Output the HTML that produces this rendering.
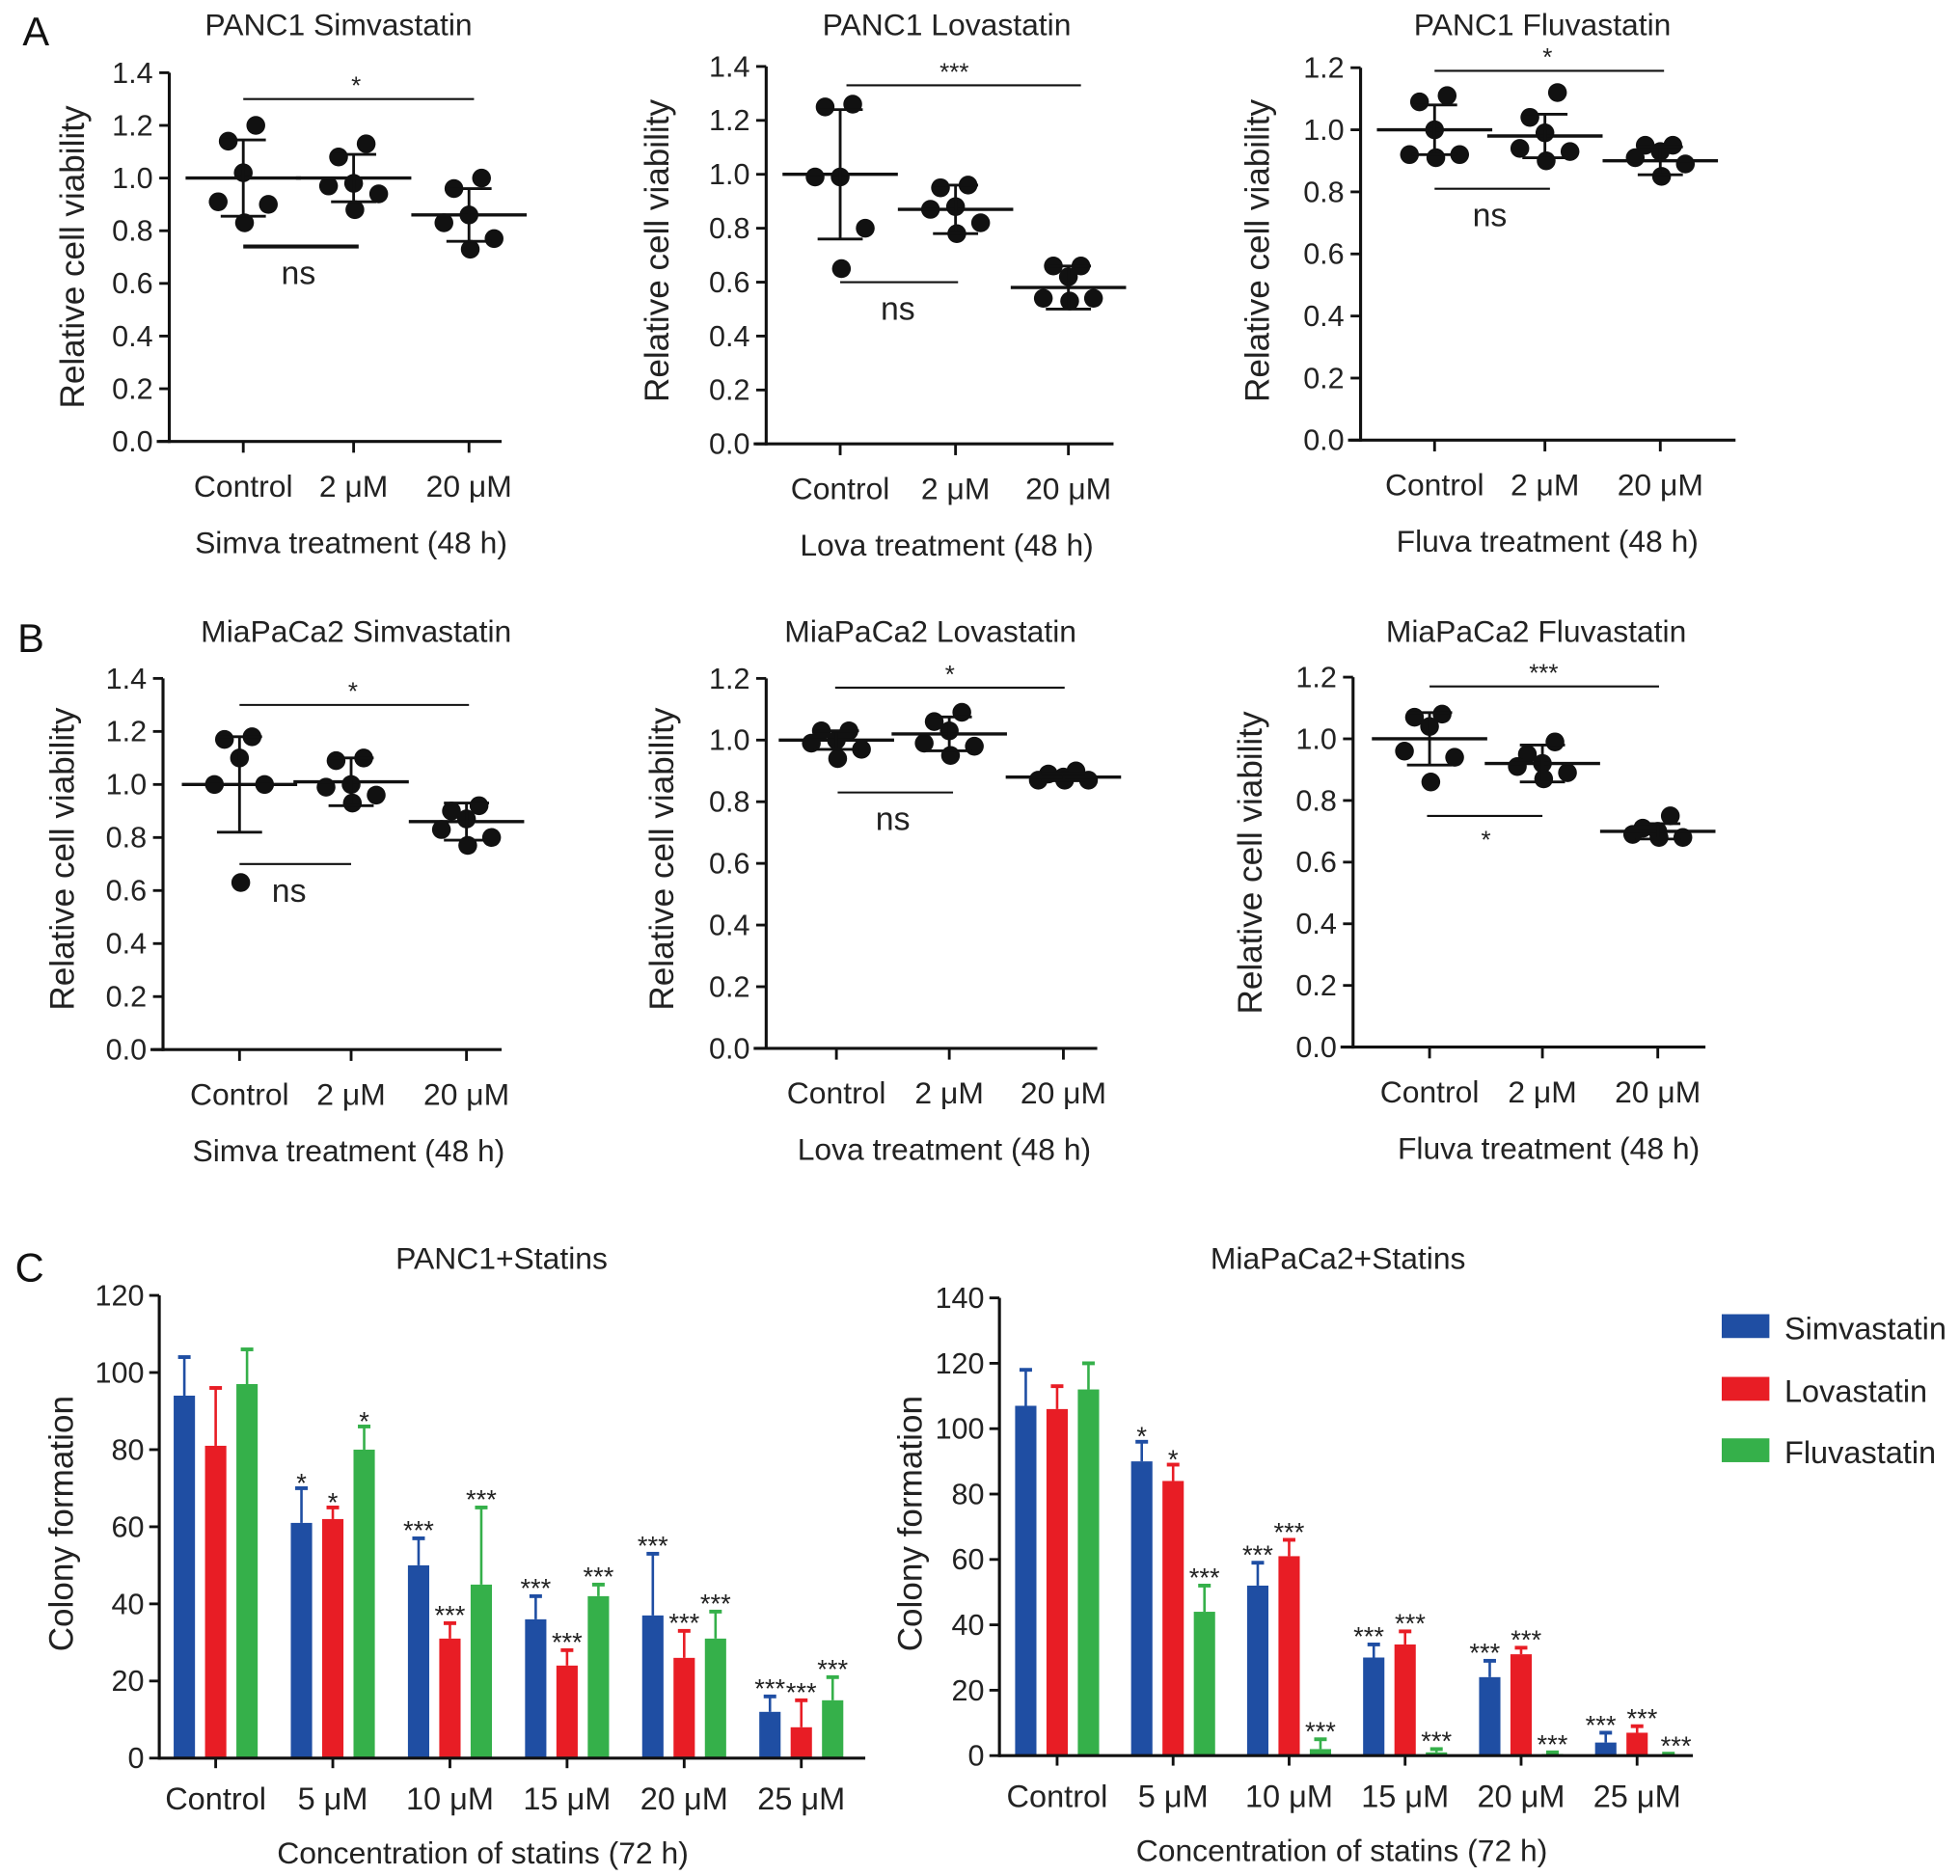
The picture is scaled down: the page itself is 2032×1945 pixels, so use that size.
<!DOCTYPE html>
<html><head><meta charset="utf-8">
<style>
html,body{margin:0;padding:0;background:#fff;}
svg{display:block;font-family:"Liberation Sans",Arial,sans-serif;}
</style></head>
<body>
<svg id="fig" width="2032" height="1945" viewBox="0 0 1563 1496" preserveAspectRatio="none" xmlns="http://www.w3.org/2000/svg">
<rect width="1563" height="1496" fill="#fff"/>
<text x="18" y="36" font-size="32" fill="#111">A</text>
<text x="14" y="520" font-size="32" fill="#111">B</text>
<text x="12" y="1022" font-size="32" fill="#111">C</text>
<g id="legend">
<rect x="1373" y="1048" width="38" height="19" fill="#1f4ea3"/>
<text x="1423" y="1068" font-size="25" fill="#222">Simvastatin</text>
<rect x="1373" y="1098" width="38" height="19" fill="#e81d25"/>
<text x="1423" y="1118" font-size="25" fill="#222">Lovastatin</text>
<rect x="1373" y="1147" width="38" height="19" fill="#35b04a"/>
<text x="1423" y="1167" font-size="25" fill="#222">Fluvastatin</text>
</g>
</svg>
<script>
const NS="http://www.w3.org/2000/svg";
const svg=document.getElementById('fig');

// ---------- scatter data ----------
const scatterCats=["Control","2 \u03bcM","20 \u03bcM"];
const a1Points=[[1.20,1.14,1.02,0.91,0.90,0.83],[1.13,1.08,0.98,0.97,0.94,0.88],[1.00,0.96,0.86,0.83,0.77,0.73]];
const a1Mean=[1.00,1.00,0.86];
const a1Sd=[0.145,0.09,0.10];
const a2Points=[[1.26,1.25,0.99,0.99,0.80,0.65],[0.96,0.95,0.88,0.87,0.82,0.78],[0.66,0.66,0.62,0.54,0.54,0.53]];
const a2Mean=[1.00,0.87,0.58];
const a2Sd=[0.24,0.09,0.08];
const a3Points=[[1.11,1.09,1.00,0.92,0.92,0.91],[1.12,1.04,0.99,0.94,0.93,0.90],[0.95,0.95,0.93,0.91,0.89,0.85]];
const a3Mean=[1.00,0.98,0.90];
const a3Sd=[0.08,0.07,0.045];
const b1Points=[[1.18,1.17,1.10,1.00,1.00,0.63],[1.10,1.09,1.00,0.99,0.96,0.93],[0.92,0.90,0.87,0.83,0.80,0.77]];
const b1Mean=[1.00,1.01,0.86];
const b1Sd=[0.18,0.09,0.07];
const b2Points=[[1.03,1.03,1.00,0.99,0.97,0.94],[1.09,1.06,1.03,0.99,0.98,0.95],[0.90,0.89,0.88,0.87,0.87,0.87]];
const b2Mean=[1.00,1.02,0.88];
const b2Sd=[0.03,0.055,0.012];
const b3Points=[[1.08,1.07,1.04,0.96,0.94,0.86],[0.99,0.95,0.92,0.91,0.89,0.87],[0.75,0.71,0.70,0.69,0.68,0.68]];
const b3Mean=[1.00,0.92,0.70];
const b3Sd=[0.085,0.06,0.025];
const ticks14=[0,0.2,0.4,0.6,0.8,1.0,1.2,1.4];
const ticks12=[0,0.2,0.4,0.6,0.8,1.0,1.2];

// ---------- bar data ----------
const barCats=["Control","5 \u03bcM","10 \u03bcM","15 \u03bcM","20 \u03bcM","25 \u03bcM"];
const c1Simva=[94,61,50,36,37,12];
const c1SimvaErr=[10,9,7,6,16,4];
const c1Lova=[81,62,31,24,26,8];
const c1LovaErr=[15,3,4,4,7,7];
const c1Fluva=[97,80,45,42,31,15];
const c1FluvaErr=[9,6,20,3,7,6];
const c1Sig=[["","",""],["*","*","*"],["***","***","***"],["***","***","***"],["***","***","***"],["***","***","***"]];
const c2Simva=[107,90,52,30,24,4];
const c2SimvaErr=[11,6,7,4,5,3];
const c2Lova=[106,84,61,34,31,7];
const c2LovaErr=[7,5,5,4,2,2];
const c2Fluva=[112,44,2,1,0.5,0.3];
const c2FluvaErr=[8,8,3,1,0.5,0.3];
const c2Sig=[["","",""],["*","*","***"],["***","***","***"],["***","***","***"],["***","***","***"],["***","***","***"]];
const c1Ticks=[0,20,40,60,80,100,120];
const c2Ticks=[0,20,40,60,80,100,120,140];

function el(tag,attrs,parent,txt){
  const e=document.createElementNS(NS,tag);
  for(const k in attrs)e.setAttribute(k,attrs[k]);
  if(txt!==undefined)e.textContent=txt;
  (parent||svg).appendChild(e);return e;
}
function line(g,x1,y1,x2,y2,w,c){return el('line',{x1,y1,x2,y2,stroke:c||'#111','stroke-width':w||2.2},g);}

const jitter=[10,-12,0,-20,20,1];

function scatterChart(cfg){
  const g=el('g',{});
  
  
  const ymax=cfg.ticks[cfg.ticks.length-1];
  const Y=v=>cfg.y0-(v/ymax)*(cfg.y0-cfg.yTop);
  const X=i=>cfg.cx[i];
  const ya=line(g,cfg.ax,cfg.yTop,cfg.ax,cfg.y0+1.2,2.4);
  
  
  const xa=line(g,cfg.ax-10,cfg.y0,cfg.xEnd,cfg.y0,2.4);
  
  
  cfg.ticks.forEach(t=>{
    line(g,cfg.ax-8,Y(t),cfg.ax,Y(t),2.2);
    const tl=el('text',{x:cfg.ax-13,y:Y(t)+8,'font-size':23.5,'text-anchor':'end',fill:'#222'},g,t.toFixed(1));
    
    
  });
  scatterCats.forEach((c,i)=>{
    line(g,X(i),cfg.y0,X(i),cfg.y0+9,2.2);
    const cl=el('text',{x:X(i),y:cfg.y0+44,'font-size':24.5,'text-anchor':'middle',fill:'#222'},g,c);
    
    
    cfg.points[i].forEach((v,j)=>{
      const p=el('circle',{cx:X(i)+jitter[j],cy:Y(v),r:7.5,fill:'#111'},g);
      
      
    });
    const m=cfg.mean[i],s=cfg.sd[i];
    const ml=line(g,X(i)-46,Y(m),X(i)+46,Y(m),2.6);
    
    
    line(g,X(i),Y(m+s),X(i),Y(m-s),2.2);
    line(g,X(i)-18,Y(m+s),X(i)+18,Y(m+s),2.2);
    line(g,X(i)-18,Y(m-s),X(i)+18,Y(m-s),2.2);
  });
  cfg.sig.forEach(s=>{
    const bl=line(g,X(s.a)+(s.dx1||0),Y(s.v),X(s.b)+(s.dx2||0),Y(s.v),s.w||1.6);
    
    
    const mx=(X(s.a)+X(s.b))/2+(s.tdx||0);
    const st=el('text',{x:mx,y:s.below?Y(s.v)+(s.t==='ns'?30:26):Y(s.v)-4,'font-size':s.t==='ns'?26:20,'text-anchor':'middle',fill:'#222'},g,s.t);
    
    
  });
  const tt=el('text',{x:cfg.tx,y:cfg.ty,'font-size':24.5,'text-anchor':'middle',fill:'#222'},g,cfg.title);
  
  
  const xt=el('text',{x:cfg.xtx,y:cfg.y0+89,'font-size':24.5,'text-anchor':'middle',fill:'#222'},g,cfg.xtitle);
  
  
  const yt=el('text',{x:0,y:0,'font-size':27,'text-anchor':'middle',fill:'#222',transform:`translate(${cfg.ylx},${cfg.yly}) rotate(-90)`},g,'Relative cell viability');
  
  
}

scatterChart({name:'chart-panc1-simvastatin',ax:135,y0:352,yTop:58,xEnd:400,cx:[194,282,374],ticks:ticks14,points:a1Points,mean:a1Mean,sd:a1Sd,
  sig:[{a:0,b:2,v:1.30,t:'*',dx2:4},{a:0,b:1,v:0.74,t:'ns',below:true,w:3.2,dx2:4,tdx:0}],
  title:'PANC1 Simvastatin',tx:270,ty:28,xtitle:'Simva treatment (48 h)',xtx:280,ylx:67,yly:205});
scatterChart({name:'chart-panc1-lovastatin',ax:611,y0:354,yTop:53,xEnd:888,cx:[670,762,852],ticks:ticks14,points:a2Points,mean:a2Mean,sd:a2Sd,
  sig:[{a:0,b:2,v:1.33,t:'***',dx1:5,dx2:10},{a:0,b:1,v:0.60,t:'ns',below:true,dx2:2}],
  title:'PANC1 Lovastatin',tx:755,ty:28,xtitle:'Lova treatment (48 h)',xtx:755,ylx:533,yly:200});
scatterChart({name:'chart-panc1-fluvastatin',ax:1085,y0:351,yTop:54,xEnd:1384,cx:[1144,1232,1324],ticks:ticks12,points:a3Points,mean:a3Mean,sd:a3Sd,
  sig:[{a:0,b:2,v:1.19,t:'*',dx2:3},{a:0,b:1,v:0.81,t:'ns',below:true,dx2:4}],
  title:'PANC1 Fluvastatin',tx:1230,ty:28,xtitle:'Fluva treatment (48 h)',xtx:1234,ylx:1012,yly:200});
scatterChart({name:'chart-miapaca2-simvastatin',ax:130,y0:837,yTop:541,xEnd:400,cx:[191,280,372],ticks:ticks14,points:b1Points,mean:b1Mean,sd:b1Sd,
  sig:[{a:0,b:2,v:1.30,t:'*',dx2:2},{a:0,b:1,v:0.70,t:'ns',below:true,tdx:-5}],
  title:'MiaPaCa2 Simvastatin',tx:284,ty:512,xtitle:'Simva treatment (48 h)',xtx:278,ylx:59,yly:685});
scatterChart({name:'chart-miapaca2-lovastatin',ax:611,y0:836,yTop:541,xEnd:875,cx:[667,757,848],ticks:ticks12,points:b2Points,mean:b2Mean,sd:b2Sd,
  sig:[{a:0,b:2,v:1.17,t:'*',dx1:-1,dx2:1},{a:0,b:1,v:0.83,t:'ns',below:true,dx1:1,dx2:3}],
  title:'MiaPaCa2 Lovastatin',tx:742,ty:512,xtitle:'Lova treatment (48 h)',xtx:753,ylx:537,yly:685});
scatterChart({name:'chart-miapaca2-fluvastatin',ax:1079,y0:835,yTop:540,xEnd:1360,cx:[1140,1230,1322],ticks:ticks12,points:b3Points,mean:b3Mean,sd:b3Sd,
  sig:[{a:0,b:2,v:1.17,t:'***',dx2:1},{a:0,b:1,v:0.75,t:'*',below:true,dx1:-2}],
  title:'MiaPaCa2 Fluvastatin',tx:1225,ty:512,xtitle:'Fluva treatment (48 h)',xtx:1235,ylx:1006,yly:688});

// ---------- bar charts ----------
const colors=['#1f4ea3','#e81d25','#35b04a'];
const seriesNames=['simvastatin','lovastatin','fluvastatin'];
function barChart(cfg){
  const g=el('g',{});
  
  
  const ymax=cfg.ticks[cfg.ticks.length-1];
  const Y=v=>cfg.y0-(v/ymax)*(cfg.y0-cfg.yTop);
  const X=i=>cfg.x0+i*cfg.step;
  const series=[[cfg.s,cfg.se],[cfg.l,cfg.le],[cfg.f,cfg.fe]];
  const bw=17,off=[-25,0,25];
  barCats.forEach((c,i)=>{
    series.forEach((sr,k)=>{
      const v=sr[0][i],e=sr[1][i],cx=X(i)+off[k];
      line(g,cx,Y(v),cx,Y(v+e),2,colors[k]);
      line(g,cx-5,Y(v+e),cx+5,Y(v+e),3,colors[k]);
      const r=el('rect',{x:cx-bw/2,y:Y(v),width:bw,height:Math.max(0,cfg.y0-Y(v)),fill:colors[k]},g);
      
      
      const sg=cfg.sig[i][k];
      if(sg){
        const t=el('text',{x:cx+(cfg.sdx?cfg.sdx[i][k]:0),y:Y(v+e)-3+(sg==='*'?6:4),'font-size':21,'text-anchor':'middle',fill:'#222'},g,sg);
        
        
      }
    });
    line(g,X(i),cfg.y0,X(i),cfg.y0+8,2.2);
    const cl=el('text',{x:X(i),y:cfg.y0+41,'font-size':25,'text-anchor':'middle',fill:'#222'},g,c);
    
    
  });
  const ya=line(g,cfg.ax,cfg.yTop,cfg.ax,cfg.y0+1.2,2.4);
  
  
  const xa=line(g,cfg.ax,cfg.y0,cfg.xEnd,cfg.y0,2.4);
  
  
  cfg.ticks.forEach(t=>{
    line(g,cfg.ax-8,Y(t),cfg.ax,Y(t),2.2);
    const tl=el('text',{x:cfg.ax-12,y:Y(t)+8,'font-size':23.5,'text-anchor':'end',fill:'#222'},g,String(t));
    
    
  });
  const tt=el('text',{x:cfg.tx,y:cfg.ty,'font-size':24.5,'text-anchor':'middle',fill:'#222'},g,cfg.title);
  
  
  const xt=el('text',{x:cfg.xtx,y:cfg.y0+84,'font-size':24.5,'text-anchor':'middle',fill:'#222'},g,'Concentration of statins (72 h)');
  
  
  const yt=el('text',{x:0,y:0,'font-size':27,'text-anchor':'middle',fill:'#222',transform:`translate(${cfg.ylx},${cfg.yly}) rotate(-90)`},g,'Colony formation');
  
  
}
barChart({name:'chart-panc1-statins-colony',ax:127,y0:1402,yTop:1033,xEnd:690,x0:172,step:93.4,ticks:c1Ticks,
  s:c1Simva,se:c1SimvaErr,l:c1Lova,le:c1LovaErr,f:c1Fluva,fe:c1FluvaErr,sig:c1Sig,
  title:'PANC1+Statins',tx:400,ty:1012,xtx:385,ylx:58,yly:1215});
barChart({name:'chart-miapaca2-statins-colony',ax:797,y0:1400,yTop:1035,xEnd:1350,x0:843,step:92.5,ticks:c2Ticks,
  s:c2Simva,se:c2SimvaErr,l:c2Lova,le:c2LovaErr,f:c2Fluva,fe:c2FluvaErr,sig:c2Sig,
  sdx:[[0,0,0],[0,0,0],[0,0,0],[-4,4,0],[-4,4,0],[-4,4,6]],
  title:'MiaPaCa2+Statins',tx:1067,ty:1012,xtx:1070,ylx:735,yly:1215});
</script>
</body></html>
